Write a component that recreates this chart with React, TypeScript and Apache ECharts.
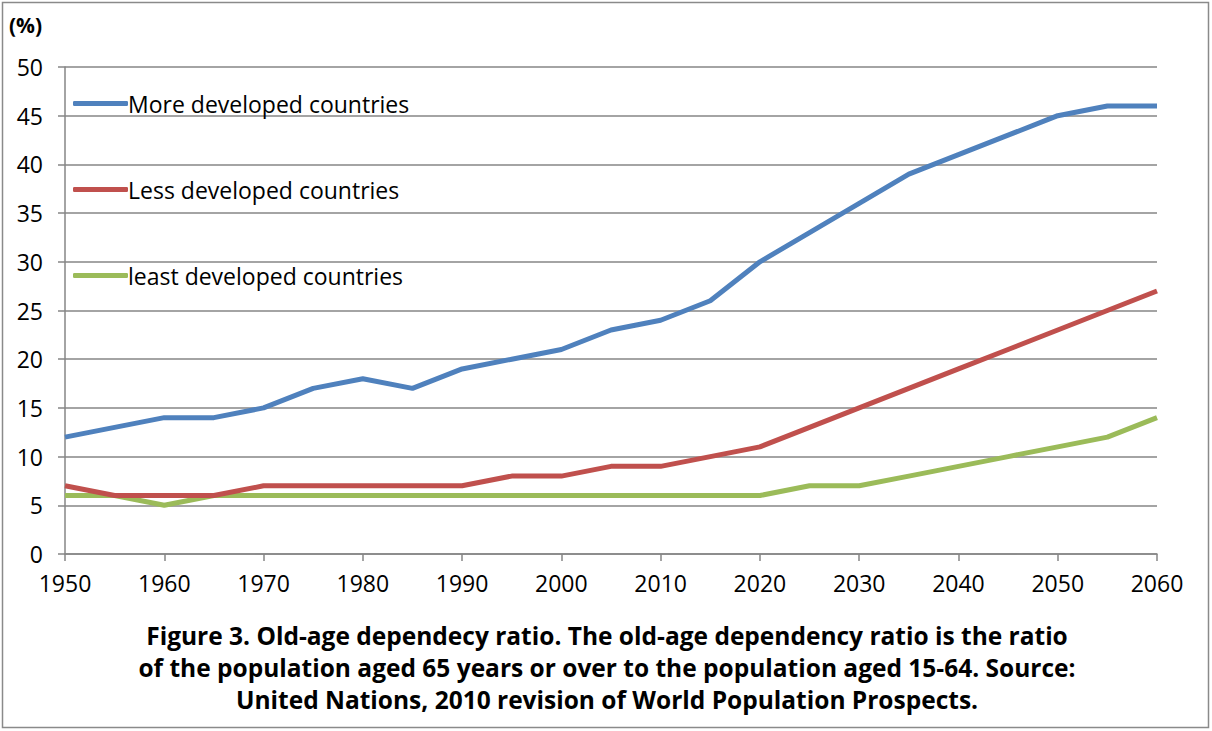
import React, { useEffect, useRef } from "react";
import * as echarts from "echarts";

// Five-year steps, 1950–2060
const years = [
  1950, 1955, 1960, 1965, 1970, 1975, 1980, 1985, 1990, 1995, 2000, 2005,
  2010, 2015, 2020, 2025, 2030, 2035, 2040, 2045, 2050, 2055, 2060,
];

const moreDeveloped = [
  12, 13, 14, 14, 15, 17, 18, 17, 19, 20, 21, 23, 24, 26, 30, 33, 36, 39, 41,
  43, 45, 46, 46,
];
const lessDeveloped = [
  7, 6, 6, 6, 7, 7, 7, 7, 7, 8, 8, 9, 9, 10, 11, 13, 15, 17, 19, 21, 23, 25, 27,
];
const leastDeveloped = [
  6, 6, 5, 6, 6, 6, 6, 6, 6, 6, 6, 6, 6, 6, 6, 7, 7, 8, 9, 10, 11, 12, 14,
];

const seriesNames = [
  "More developed countries",
  "Less developed countries",
  "least developed countries",
];
const seriesColors = ["#4F81BD", "#C0504D", "#9BBB59"];

const captionLines = [
  "Figure 3. Old-age dependecy ratio. The old-age dependency ratio is the ratio",
  "of the population aged 65 years or over to the population aged 15-64. Source:",
  "United Nations, 2010 revision of World Population Prospects.",
];

const FONT = "'Open Sans', 'Noto Sans', sans-serif";

export default function App() {
  const ref = useRef<HTMLDivElement>(null);

  useEffect(() => {
    if (!ref.current) return;
    const chart = echarts.init(ref.current, undefined, { renderer: "svg" });

    const pairs = (vals: number[]) => years.map((y, i) => [y, vals[i]]);
    const allValues = [moreDeveloped, lessDeveloped, leastDeveloped];

    chart.setOption({
      animation: false,
      backgroundColor: "#ffffff",
      textStyle: { fontFamily: FONT },
      grid: { left: 65, right: 55, top: 67, bottom: 177, containLabel: false },
      legend: {
        orient: "vertical",
        left: 68,
        top: 87,
        itemGap: 63,
        itemWidth: 55,
        itemHeight: 5,
        icon: "roundRect",
        textStyle: { fontFamily: FONT, fontSize: 23, color: "#000", padding: [0, 0, 0, -5] },
        data: seriesNames,
      },
      xAxis: {
        type: "value",
        min: 1950,
        max: 2060,
        interval: 10,
        axisLine: { lineStyle: { color: "#868686", width: 1.5 } },
        axisTick: { show: true, length: 7, lineStyle: { color: "#868686", width: 1.5 } },
        axisLabel: {
          fontFamily: FONT,
          fontSize: 23,
          color: "#000",
          margin: 17,
          formatter: (v: number) => String(v),
        },
        splitLine: { show: false },
      },
      yAxis: {
        type: "value",
        min: 0,
        max: 50,
        interval: 5,
        axisLine: { show: true, lineStyle: { color: "#868686", width: 1.5 } },
        axisTick: { show: true, length: 7, lineStyle: { color: "#868686", width: 1.5 } },
        axisLabel: {
          fontFamily: FONT,
          fontSize: 23,
          color: "#000",
          margin: 22,
        },
        splitLine: { lineStyle: { color: "#868686", width: 1.5 } },
      },
      series: seriesNames.map((name, i) => ({
        name,
        type: "line",
        data: pairs(allValues[i]),
        showSymbol: false,
        symbol: "none",
        color: seriesColors[i],
        lineStyle: { width: 5, color: seriesColors[i] },
        z: 3 - i,
      })),
      graphic: [
        {
          type: "rect",
          shape: { x: 2.5, y: 2.5, width: 1206, height: 725 },
          style: { fill: "none", stroke: "#8a8a8a", lineWidth: 1.5 },
          silent: true,
        },
        {
          type: "text",
          x: 9,
          y: 14,
          style: {
            text: "(%)",
            font: `bold 21px ${FONT}`,
            fill: "#000",
          },
        },
        {
          type: "text",
          x: 607,
          y: 619,
          style: {
            text: captionLines.join("\n"),
            font: `bold 24.5px ${FONT}`,
            fill: "#000",
            align: "center",
            verticalAlign: "top",
            lineHeight: 32,
          },
        },
      ],
    });

    return () => chart.dispose();
  }, []);

  return (
    <div
      ref={ref}
      style={{ position: "fixed", left: 0, top: 0, width: 1212, height: 731 }}
    />
  );
}
